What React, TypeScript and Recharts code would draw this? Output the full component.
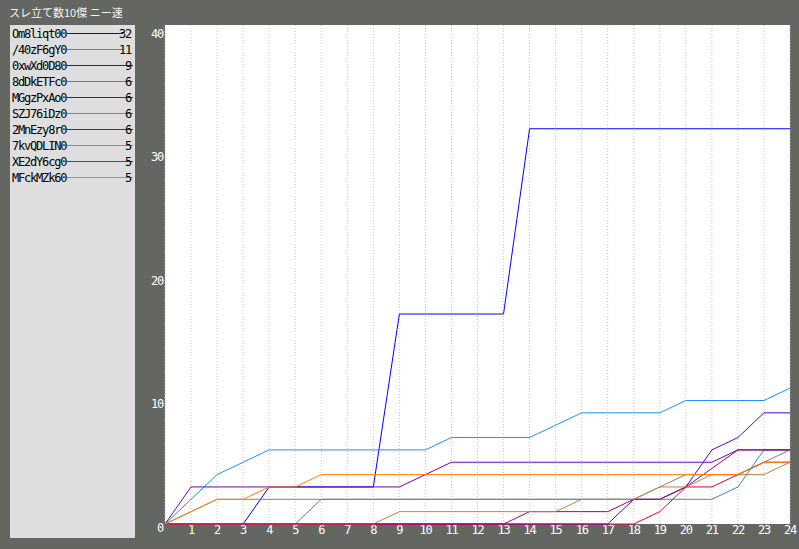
import { LineChart, Line, XAxis, YAxis, CartesianGrid } from "recharts";

const hours = [0, 1, 2, 3, 4, 5, 6, 7, 8, 9, 10, 11, 12, 13, 14, 15, 16, 17, 18, 19, 20, 21, 22, 23, 24];

const names = ["Om8liqt00", "/40zF6gY0", "0xwXd0D80", "8dDkETFc0", "MGgzPxAo0", "SZJ76iDz0", "2MnEzy8r0", "7kvQDLIN0", "XE2dY6cg0", "MFckMZk60"];
const colors = ["#0000ff", "#1e90ff", "#4b00e0", "#4682b4", "#7400b4", "#808080", "#a00070", "#c08040", "#e0003c", "#ff8000"];

// cumulative thread count per hour
const om8 = [0, 0, 0, 0, 3, 3, 3, 3, 3, 17, 17, 17, 17, 17, 32, 32, 32, 32, 32, 32, 32, 32, 32, 32, 32];
const z40 = [0, 2, 4, 5, 6, 6, 6, 6, 6, 6, 6, 7, 7, 7, 7, 8, 9, 9, 9, 9, 10, 10, 10, 10, 11];
const oxw = [0, 0, 0, 0, 0, 0, 0, 0, 0, 0, 0, 0, 0, 0, 0, 0, 0, 0, 2, 2, 3, 6, 7, 9, 9];
const d8d = [0, 0, 0, 0, 0, 0, 2, 2, 2, 2, 2, 2, 2, 2, 2, 2, 2, 2, 2, 2, 2, 2, 3, 6, 6];
const mgg = [0, 3, 3, 3, 3, 3, 3, 3, 3, 3, 4, 5, 5, 5, 5, 5, 5, 5, 5, 5, 5, 5, 6, 6, 6];
const szj = [0, 1, 2, 2, 2, 2, 2, 2, 2, 2, 2, 2, 2, 2, 2, 2, 2, 2, 2, 3, 4, 4, 4, 5, 6];
const mn2 = [0, 0, 0, 0, 0, 0, 0, 0, 0, 0, 0, 0, 0, 0, 1, 1, 1, 1, 2, 2, 3, 4.5, 6, 6, 6];
const kv7 = [0, 0, 0, 0, 0, 0, 0, 0, 0, 1, 1, 1, 1, 1, 1, 1, 2, 2, 2, 3, 3, 4, 4, 4, 5];
const xe2 = [0, 0, 0, 0, 0, 0, 0, 0, 0, 0, 0, 0, 0, 0, 0, 0, 0, 0, 0, 1, 3, 3, 4, 5, 5];
const mfck = [0, 1, 2, 2, 3, 3, 4, 4, 4, 4, 4, 4, 4, 4, 4, 4, 4, 4, 4, 4, 4, 4, 4, 5, 5];

const series = [om8, z40, oxw, d8d, mgg, szj, mn2, kv7, xe2, mfck];
const xTicks = hours.slice(1);
const yTicks = [0, 10, 20, 30, 40];

const data = hours.map((h, i) => {
  const row: any = { h };
  series.forEach((s, k) => (row["s" + k] = s[i]));
  return row;
});

const font = "'DejaVu Sans Mono', monospace";

const XTick = ({ x, y, payload }: any) => (
  <text x={x} y={y + 10} textAnchor="middle" fill="#ffffff" fontSize={12} fontFamily={font} letterSpacing={-1.2}>
    {payload.value}
  </text>
);

const YTick = ({ x, y, payload }: any) => (
  <text x={x} y={y + 8} textAnchor="end" fill="#ffffff" fontSize={12} fontFamily={font} letterSpacing={-1.2}>
    {payload.value}
  </text>
);

// legend panel on the left, drawn as svg so the 1px lines stay crisp
const Legend = () => (
  <svg width={125} height={513} style={{ position: "absolute", left: 10, top: 25, background: "#dedede" }}>
    {names.map((n, i) => {
      const cy = 8.5 + i * 16;
      const last = series[i][series[i].length - 1];
      const numStart = 120 - (String(last).length - 1) * 6 + (last < 10 ? 4 : 0);
      return (
        <g key={n} fontFamily={font} fontSize={12} letterSpacing={-1.2}>
          <text x={2} y={cy + 4} fill="#000">{n}</text>
          <line x1={57} x2={numStart - 1} y1={cy} y2={cy} stroke={colors[i]} strokeWidth={1} />
          <text x={121} y={cy + 4} fill="#000" textAnchor="end">{last}</text>
        </g>
      );
    })}
  </svg>
);

export default function App() {
  return (
    <div style={{ position: "absolute", left: 0, top: 0, width: 799, height: 549, background: "#646662", overflow: "hidden" }}>
      <div
        style={{
          position: "absolute",
          left: 9,
          top: 4,
          color: "#f4f4f4",
          fontSize: 11,
          fontFamily: "'Noto Sans CJK JP', sans-serif",
          whiteSpace: "nowrap",
        }}
      >
        スレ立て数10傑 ニー速
      </div>
      <Legend />
      <div style={{ position: "absolute", left: 0, top: 0 }}>
        <LineChart width={799} height={549} data={data} margin={{ top: 25, right: 9, bottom: 5, left: 115 }}>
          <CartesianGrid horizontal={false} stroke="#c8c8c8" strokeDasharray="1 2" fill="#ffffff" fillOpacity={1} />
          <XAxis
            dataKey="h"
            type="number"
            domain={[0, 24]}
            ticks={xTicks}
            interval={0}
            axisLine={false}
            tickLine={false}
            tickSize={0}
            tickMargin={0}
            height={20}
            tick={<XTick />}
          />
          <YAxis
            type="number"
            domain={[0, 40.4]}
            ticks={yTicks}
            interval={0}
            axisLine={false}
            tickLine={false}
            tickSize={0}
            tickMargin={2}
            width={50}
            tick={<YTick />}
          />
          {series.map((_, k) => (
            <Line
              key={k}
              type="linear"
              dataKey={"s" + k}
              stroke={colors[k]}
              strokeWidth={1}
              dot={false}
              activeDot={false}
              isAnimationActive={false}
            />
          ))}
        </LineChart>
      </div>
    </div>
  );
}
